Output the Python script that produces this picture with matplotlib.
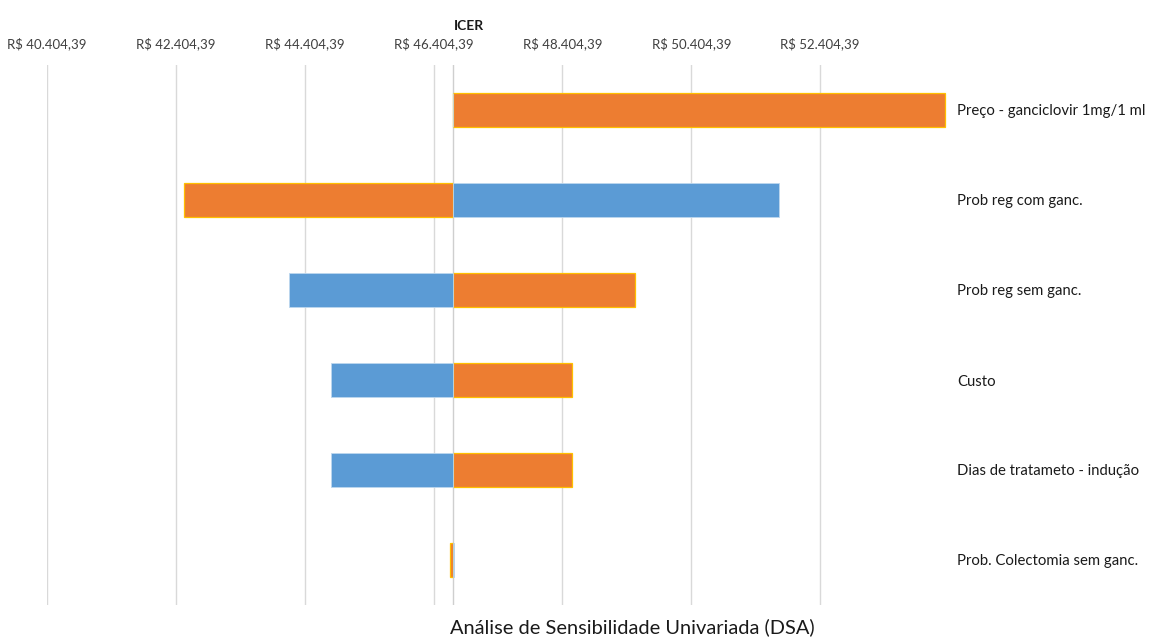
import matplotlib.pyplot as plt

# ICER base case and one-way sensitivity results (R$)
base_icer = 46702.0
categories = [
    "Preço - ganciclovir 1mg/1 ml",
    "Prob reg com ganc.",
    "Prob reg sem ganc.",
    "Custo",
    "Dias de tratameto - indução",
    "Prob. Colectomia sem ganc.",
]
orange_vals = [54348, 42531, 49534, 48556, 48556, 46662]
blue_vals = [46702, 51770, 44162, 44814, 44814, 46716]
tick_vals = [40404.39, 42404.39, 44404.39, 46404.39, 48404.39, 50404.39, 52404.39]
tick_labels = ["R$ 40.404,39", "R$ 42.404,39", "R$ 44.404,39", "R$ 46.404,39",
               "R$ 48.404,39", "R$ 50.404,39", "R$ 52.404,39"]

plt.rcParams['font.family'] = ['Lato', 'DejaVu Sans']

fig = plt.figure(figsize=(11.51, 6.37), dpi=100)
W, H = 1151, 637
ax = fig.add_axes([47 / W, 1 - 605 / H, (949 - 47) / W, (605 - 65) / H])

ypos = list(range(len(categories)))
bh = 0.37
ax.barh(ypos, [o - base_icer for o in orange_vals], left=base_icer, height=bh,
        color="#ED7D31", edgecolor="#FFC000", linewidth=0.9, zorder=3)
ax.barh(ypos, [b - base_icer for b in blue_vals], left=base_icer, height=bh,
        color="#5B9BD5", edgecolor="#BDD7EE", linewidth=0.6, zorder=3)

ax.set_xlim(40404.39, 54404.39)
ax.set_ylim(len(categories) - 0.5, -0.5)

ax.set_xticks(tick_vals)
ax.set_xticklabels(tick_labels, fontsize=9.5, color="#404040")
ax.xaxis.tick_top()
ax.tick_params(axis="x", length=0, pad=11)
ax.grid(axis="x", color="#D9D9D9", linewidth=1, zorder=0)
ax.axvline(base_icer, color="#CFCFCF", linewidth=1, zorder=2)

ax.yaxis.tick_right()
ax.set_yticks(ypos)
ax.set_yticklabels(categories, fontsize=10.7, color="#1a1a1a")
ax.tick_params(axis="y", length=0, pad=6)

for s in ax.spines.values():
    s.set_visible(False)

fig.text(469 / W, 1 - 26 / H, "ICER", ha="center", va="center",
         fontsize=10, fontweight="bold", color="#1a1a1a")
fig.text(632 / W, 1 - 627 / H, "Análise de Sensibilidade Univariada (DSA)",
         ha="center", va="center", fontsize=14.4, color="#1a1a1a")

fig.savefig("out.png", dpi=100)
